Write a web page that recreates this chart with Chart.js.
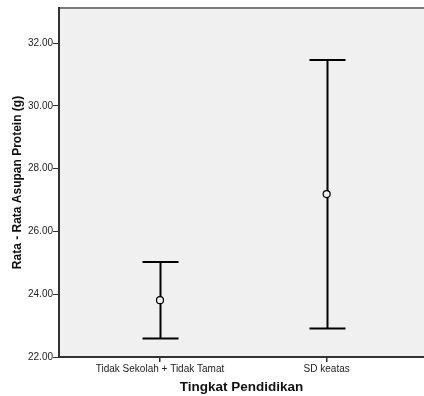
<!DOCTYPE html>
<html>
<head>
<meta charset="utf-8">
<script src="https://cdn.jsdelivr.net/npm/chart.js@4"></script>
<style>
  html, body { margin: 0; padding: 0; background: #fff; }
  #wrap { width: 424px; height: 396px; }
</style>
</head>
<body>
<div id="wrap"><canvas id="errChart" width="424" height="396"></canvas></div>
<script>
// chart data
const categories = ['Tidak Sekolah + Tidak Tamat', 'SD keatas'];
const means = [23.81, 27.19];
const lowerCI = [22.59, 22.91];
const upperCI = [25.03, 31.46];
const yTicks = [22, 24, 26, 28, 30, 32];
const yMin = 22, yMax = 33.12;

// background + frame of the plot area
const frame = {
    id: 'frame',
    beforeDraw(chart) {
        const { ctx, chartArea: a } = chart;
        ctx.save();
        ctx.fillStyle = '#f0f0f0';
        ctx.fillRect(a.left, a.top, a.right - a.left, a.bottom - a.top);
        ctx.restore();
    },
    afterDraw(chart) {
        const { ctx, chartArea: a } = chart;
        ctx.save();
        ctx.lineWidth = 2;
        ctx.strokeStyle = '#7a7a7a';
        ctx.beginPath();
        ctx.moveTo(a.left, a.top);
        ctx.lineTo(a.right, a.top);
        ctx.stroke();
        ctx.strokeStyle = '#333';
        ctx.beginPath();
        ctx.moveTo(a.left, a.top - 1);
        ctx.lineTo(a.left, a.bottom);
        ctx.lineTo(a.right, a.bottom);
        ctx.stroke();
        ctx.restore();
    }
};

// whiskers from lower to upper CI
const errorBars = {
    id: 'errorBars',
    beforeDatasetsDraw(chart) {
        const { ctx, scales: { x, y } } = chart;
        const half = 18;
        ctx.save();
        ctx.strokeStyle = '#000';
        ctx.lineWidth = 2;
        categories.forEach((c, i) => {
            const px = Math.round(x.getPixelForValue(i)) + 0.5;
            const top = y.getPixelForValue(upperCI[i]);
            const bot = y.getPixelForValue(lowerCI[i]);
            ctx.beginPath();
            ctx.moveTo(px, top);
            ctx.lineTo(px, bot);
            ctx.moveTo(px - half, top);
            ctx.lineTo(px + half, top);
            ctx.moveTo(px - half, bot);
            ctx.lineTo(px + half, bot);
            ctx.stroke();
        });
        ctx.restore();
    }
};

const ctx = document.getElementById('errChart').getContext('2d');
new Chart(ctx, {
    type: 'scatter',
    data: {
        datasets: [{
            data: means.map((m, i) => ({ x: i, y: m })),
            pointStyle: 'circle',
            pointRadius: 3.5,
            pointBorderWidth: 1.2,
            pointBorderColor: '#000',
            pointBackgroundColor: '#f0f0f0'
        }]
    },
    options: {
        responsive: false,
        animation: false,
        layout: { autoPadding: false, padding: { top: 8, right: 0, left: 0, bottom: 0 } },
        plugins: { legend: { display: false }, tooltip: { enabled: false } },
        scales: {
            x: {
                type: 'linear',
                min: -0.606,
                max: 1.584,
                afterBuildTicks: s => { s.ticks = categories.map((c, i) => ({ value: i })); },
                afterFit: s => { s.height = 39; },
                ticks: {
                    autoSkip: false,
                    maxRotation: 0,
                    padding: 1,
                    color: '#222',
                    font: { family: 'Arial, "Liberation Sans"', size: 10 },
                    callback: v => categories[v]
                },
                grid: { drawOnChartArea: false, tickLength: 5, color: '#333', lineWidth: 1.5 },
                border: { display: false },
                title: {
                    display: true,
                    text: 'Tingkat Pendidikan',
                    color: '#111',
                    font: { family: 'Arial, "Liberation Sans"', size: 13.5, weight: 'bold' },
                    padding: { top: 4, bottom: 1 }
                }
            },
            y: {
                min: yMin,
                max: yMax,
                afterBuildTicks: s => { s.ticks = yTicks.map(v => ({ value: v })); },
                afterFit: s => { s.width = 59; },
                ticks: {
                    padding: 0,
                    color: '#222',
                    font: { family: 'Arial, "Liberation Sans"', size: 10 },
                    callback: v => Number(v).toFixed(2)
                },
                grid: { drawOnChartArea: false, tickLength: 6, color: '#333', lineWidth: 1 },
                border: { display: false },
                title: {
                    display: true,
                    text: 'Rata - Rata Asupan Protein (g)',
                    color: '#111',
                    font: { family: 'Arial, "Liberation Sans"', size: 12, weight: 'bold' },
                    padding: { top: 10, bottom: 0 }
                }
            }
        }
    },
    plugins: [frame, errorBars]
});
</script>
</body>
</html>
